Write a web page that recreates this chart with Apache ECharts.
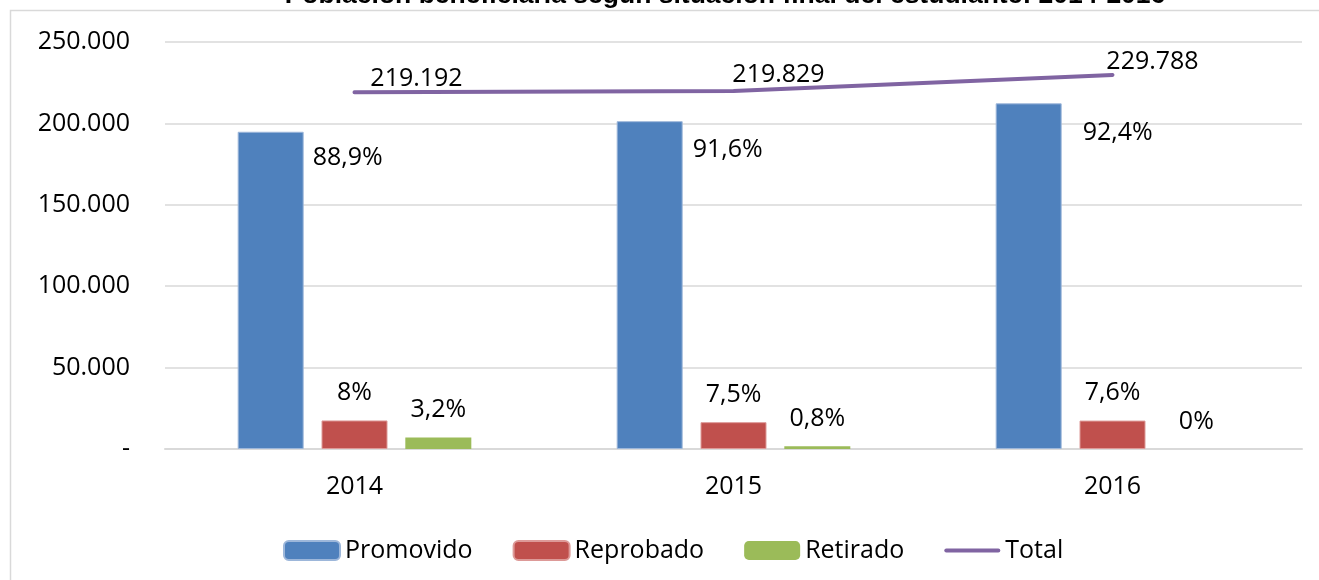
<!DOCTYPE html>
<html>
<head>
<meta charset="utf-8">
<script src="https://cdn.jsdelivr.net/npm/echarts@6/dist/echarts.min.js"></script>
<style>
  html, body { margin: 0; padding: 0; background: #fff; }
  #main { width: 1319px; height: 580px; }
</style>
</head>
<body>
<div id="main"></div>
<script>
// datos
const years = ['2014', '2015', '2016']
const promovido = [194862, 201363, 212324]
const reprobado = [17535, 16487, 17464]
const retirado = [7014, 1759, 0]
const total = [219192, 219829, 229788]
const promovidoPct = ['88,9%', '91,6%', '92,4%']
const reprobadoPct = ['8%', '7,5%', '7,6%']
const retiradoPct = ['3,2%', '0,8%', '0%']
const yTicks = [0, 50000, 100000, 150000, 200000, 250000]

const FONT = '"Open Sans", "Noto Sans", sans-serif'
const thousands = (v) => String(v).replace(/\B(?=(\d{3})+(?!\d))/g, '.')

const chart = echarts.init(document.getElementById('main'))

const labelBase = { show: true, color: '#000', fontFamily: FONT, fontSize: 25 }

const option = {
  animation: false,
  backgroundColor: '#fff',
  graphic: [
    {
      type: 'rect',
      shape: { x: 10.5, y: 10.5, width: 1400, height: 700 },
      style: { fill: 'none', stroke: '#D9D9D9', lineWidth: 1.5 },
      silent: true
    },
    {
      type: 'text',
      x: 725,
      y: -4,
      style: {
        text: 'Población beneficiaria según situación final del estudiante: 2014-2016',
        font: 'bold 26.5px "Liberation Sans", Arial, sans-serif',
        fill: '#000',
        textAlign: 'center',
        textVerticalAlign: 'middle'
      }
    }
  ],
  grid: { left: 165, right: 17, top: 42, bottom: 131 },
  legend: {
    left: 278,
    top: 533,
    itemWidth: 56,
    itemHeight: 19,
    itemGap: 40,
    textStyle: { color: '#000', fontFamily: FONT, fontSize: 25 },
    data: [
      'Promovido',
      'Reprobado',
      'Retirado',
      { name: 'Total', icon: 'path://M2,0 L54,0 A2,2 0 0 1 54,4 L2,4 A2,2 0 0 1 2,0 Z' }
    ]
  },
  xAxis: {
    type: 'category',
    data: years,
    axisLine: { lineStyle: { color: '#D9D9D9', width: 2 } },
    axisTick: { show: false },
    axisLabel: { color: '#000', fontFamily: FONT, fontSize: 25, margin: 25 }
  },
  yAxis: {
    type: 'value',
    min: yTicks[0],
    max: yTicks[yTicks.length - 1],
    interval: yTicks[1] - yTicks[0],
    axisLine: { show: false },
    axisTick: { show: false },
    splitLine: { lineStyle: { color: '#D9D9D9', width: 1.5 } },
    axisLabel: {
      color: '#000',
      fontFamily: FONT,
      fontSize: 25,
      margin: 35,
      formatter: (v) => (v === 0 ? '-' : thousands(v))
    }
  },
  series: [
    {
      name: 'Promovido',
      type: 'bar',
      barWidth: 66,
      barGap: '27%',
      itemStyle: { color: '#4F81BD', borderColor: '#9DB7DA', borderWidth: 1 },
      label: {
        ...labelBase,
        position: ['100%', 0],
        align: 'left',
        verticalAlign: 'top',
        formatter: (p) => promovidoPct[p.dataIndex]
      },
      data: promovido.map((v, i) => ({
        value: v,
        label: { offset: [[9, 14], [10, 16], [21, 17]][i] }
      }))
    },
    {
      name: 'Reprobado',
      type: 'bar',
      barWidth: 66,
      itemStyle: { color: '#C0504D', borderColor: '#DD9A98', borderWidth: 1 },
      label: {
        ...labelBase,
        position: 'top',
        distance: 15,
        formatter: (p) => reprobadoPct[p.dataIndex]
      },
      data: reprobado
    },
    {
      name: 'Retirado',
      type: 'bar',
      barWidth: 66,
      itemStyle: { color: '#9BBB59' },
      label: {
        ...labelBase,
        position: 'top',
        distance: 15,
        formatter: (p) => retiradoPct[p.dataIndex]
      },
      data: retirado
    },
    {
      name: 'Total',
      type: 'line',
      symbol: 'circle',
      symbolSize: 0.1,
      lineStyle: { color: '#8064A2', width: 4, cap: 'round' },
      itemStyle: { color: '#8064A2' },
      label: {
        ...labelBase,
        position: 'top',
        distance: 5,
        formatter: (p) => thousands(p.value)
      },
      data: total.map((v, i) => ({
        value: v,
        label: { offset: [[62, 4], [45, 1], [40, 5]][i] }
      }))
    }
  ]
}

chart.setOption(option)
</script>
</body>
</html>
